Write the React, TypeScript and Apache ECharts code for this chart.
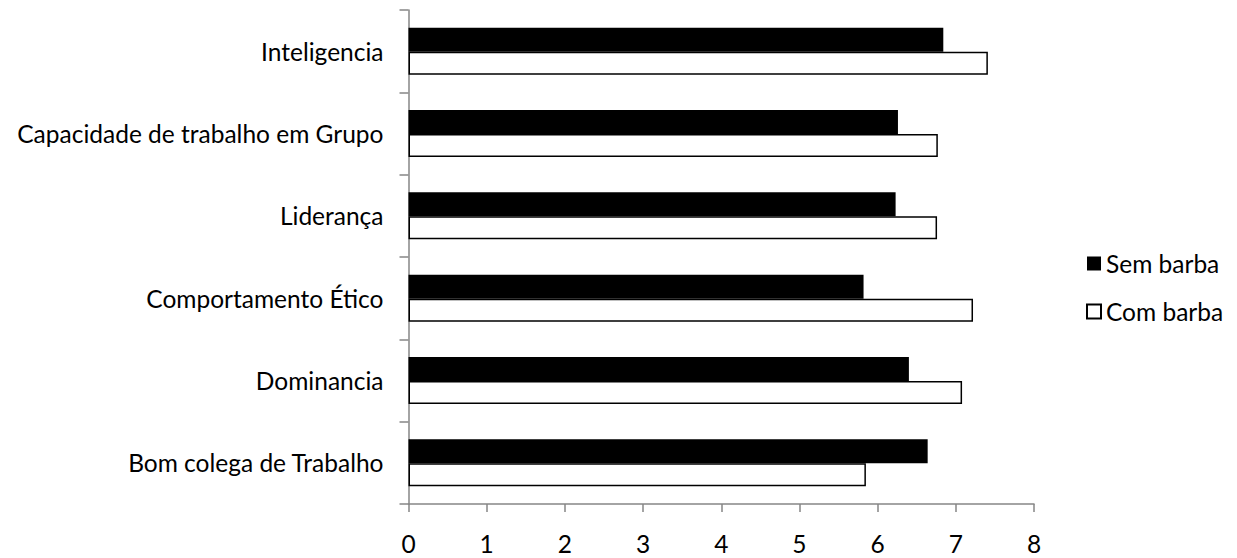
import React, { useEffect, useRef } from "react";
import * as echarts from "echarts";

// Categories listed bottom-to-top (category axis starts at the bottom)
const categories = [
  "Bom colega de Trabalho",
  "Dominancia",
  "Comportamento Ético",
  "Liderança",
  "Capacidade de trabalho em Grupo",
  "Inteligencia",
];
const semBarba = [6.64, 6.4, 5.82, 6.23, 6.26, 6.84];
const comBarba = [5.85, 7.08, 7.22, 6.76, 6.77, 7.41];
const seriesNames = ["Sem barba", "Com barba"];

const FONT = "Lato, 'Liberation Sans', sans-serif";
const FONT_SIZE = 24.5;
const AXIS_GRAY = "#868686";

export default function App() {
  const ref = useRef<HTMLDivElement>(null);

  useEffect(() => {
    if (!ref.current) return;
    const chart = echarts.init(ref.current, null, { renderer: "svg" });
    chart.setOption({
      animation: false,
      backgroundColor: "#ffffff",
      grid: { left: 408.5, right: 203, top: 10, bottom: 54, containLabel: false },
      legend: {
        orient: "vertical",
        left: 1081,
        top: 246,
        data: [seriesNames[0], seriesNames[1]],
        itemWidth: 14,
        itemHeight: 14,
        itemGap: 23,
        icon: "rect",
        textStyle: { fontFamily: FONT, fontSize: FONT_SIZE, color: "#000" },
      },
      xAxis: {
        type: "value",
        min: 0,
        max: 8,
        interval: 1,
        axisLine: { show: true, lineStyle: { color: AXIS_GRAY, width: 1.5 } },
        axisTick: { show: true, length: 8, lineStyle: { color: AXIS_GRAY, width: 1.5 } },
        splitLine: { show: false },
        axisLabel: { fontFamily: FONT, fontSize: FONT_SIZE, color: "#000", margin: 27 },
      },
      yAxis: {
        type: "category",
        data: categories,
        axisLine: { show: true, lineStyle: { color: AXIS_GRAY, width: 1.5 } },
        axisTick: { show: true, length: 9, lineStyle: { color: AXIS_GRAY, width: 1.5 } },
        axisLabel: { fontFamily: FONT, fontSize: FONT_SIZE, color: "#000", margin: 25 },
      },
      series: [
        {
          name: seriesNames[0],
          type: "bar",
          data: semBarba,
          barWidth: 24,
          barGap: "0%",
          itemStyle: { color: "#000000" },
        },
        {
          name: seriesNames[1],
          type: "bar",
          data: comBarba,
          barWidth: 23,
          barGap: "0%",
          itemStyle: { color: "#ffffff", borderColor: "#000000", borderWidth: 1.5 },
        },
      ],
    });
    return () => chart.dispose();
  }, []);

  return (
    <div
      ref={ref}
      style={{ position: "absolute", left: 0, top: 0, width: 1237, height: 558 }}
    />
  );
}
